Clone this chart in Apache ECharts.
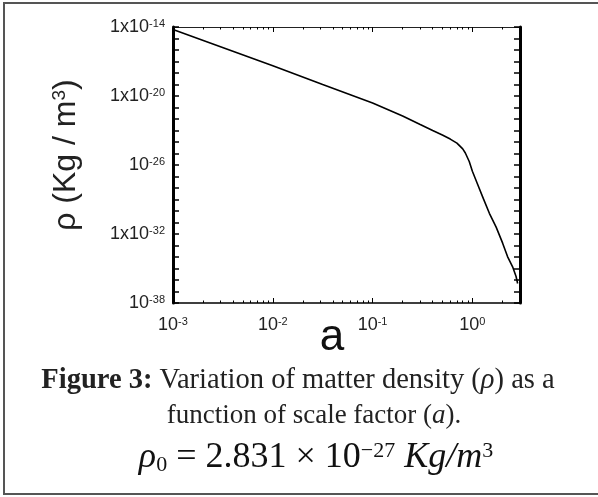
<!DOCTYPE html>
<html><head><meta charset="utf-8">
<script src="https://cdn.jsdelivr.net/npm/echarts@6/dist/echarts.min.js"></script>
<style>
html,body{margin:0;padding:0;background:#fff;}
#frame{position:absolute;left:3px;top:2px;width:604px;height:493px;border:2px solid #555;box-sizing:border-box;}
#chart{position:absolute;left:0;top:0;width:598px;height:497px;}
</style>
</head><body>
<div id="frame"></div>
<div id="chart"></div>
<script>
// Data
const scaleFactor = [0.001, 0.01, 0.0316, 0.1, 0.2, 0.3, 0.4, 0.5, 0.6, 0.7, 0.8, 0.85, 0.93, 1.0, 1.13, 1.27, 1.48, 1.73, 2.01, 2.25, 2.53, 2.74, 2.84];
const matterDensity = [6.0e-15, 4.2e-18, 1.0e-19, 2.5e-21, 1.8e-22, 3.3e-23, 1.0e-23, 4.0e-24, 1.8e-24, 8.0e-25, 2.5e-25, 1.1e-25, 2.0e-26, 2.831e-27, 2.0e-28, 1.6e-29, 6.3e-31, 4.0e-32, 1.6e-33, 1.1e-34, 1.4e-35, 2.0e-36, 5.0e-37];

// Tick labels
const xLabelValues = [0.001, 0.01, 0.1, 1];
const xLabelExp = ['-3', '-2', '-1', '0'];
const yLabelValues = [1e-38, 1e-32, 1e-26, 1e-20, 1e-14];
const yLabelMantissa = ['10', '1x10', '10', '1x10', '1x10'];
const yLabelExp = ['-38', '-32', '-26', '-20', '-14'];

const X_MIN = 0.001, X_MAX = 3;
const Y_MIN = 1e-38, Y_MAX = 1e-14;

// tick positions
const xMajorTicks = [0.001, 0.01, 0.1, 1];
const xMinorTicks = [];
[0.001, 0.01, 0.1, 1].forEach(d => { for (let k = 2; k <= 9; k++) { const v = d * k; if (v <= X_MAX) xMinorTicks.push(v); } });
const yTicks = [];
for (let e = -38; e <= -14; e++) yTicks.push(Math.pow(10, e));

const LABEL_FONT = 'Liberation Sans';
const TXT = '#222';
const labelRich = {
  b: { fontSize: 18, fontFamily: LABEL_FONT, color: TXT },
  s: { fontSize: 11, fontFamily: LABEL_FONT, color: TXT, verticalAlign: 'top' }
};
function expOf(v) { return Math.round(Math.log(v) / Math.LN10); }
function xFmt(v) {
  const i = xLabelValues.findIndex(t => expOf(t) === expOf(v));
  return i < 0 ? '' : '{b|10}{s|' + xLabelExp[i] + '}';
}
function yFmt(v) {
  const i = yLabelValues.findIndex(t => expOf(t) === expOf(v));
  return i < 0 ? '' : '{b|' + yLabelMantissa[i] + '}{s|' + yLabelExp[i] + '}';
}

const data = scaleFactor.map((a, i) => [a, matterDensity[i]]);

const baseX = { type: 'log', logBase: 10, min: X_MIN, max: X_MAX, splitLine: { show: false } };
const baseY = { type: 'log', logBase: 10, min: Y_MIN, max: Y_MAX, splitLine: { show: false } };

const chart = echarts.init(document.getElementById('chart'));
chart.setOption({
  animation: false,
  grid: { left: 173, right: 78, top: 27, bottom: 194 },
  xAxis: [
    Object.assign({}, baseX, {
      position: 'bottom',
      axisLine: { onZero: false, lineStyle: { color: '#000', width: 1.5 } },
      axisTick: { inside: true, length: 5, customValues: xMajorTicks, lineStyle: { color: '#000', width: 1 } },
      axisLabel: { customValues: xLabelValues, formatter: xFmt, rich: labelRich, margin: 13 }
    }),
    Object.assign({}, baseX, {
      position: 'bottom',
      axisLine: { show: false, onZero: false },
      axisTick: { inside: true, length: 2.5, customValues: xMinorTicks, lineStyle: { color: '#000', width: 1 } },
      axisLabel: { show: false }
    }),
    Object.assign({}, baseX, {
      position: 'top',
      axisLine: { onZero: false, lineStyle: { color: '#222', width: 1 } },
      axisTick: { inside: true, length: 5, customValues: xMajorTicks, lineStyle: { color: '#000', width: 1 } },
      axisLabel: { show: false }
    }),
    Object.assign({}, baseX, {
      position: 'top',
      axisLine: { show: false, onZero: false },
      axisTick: { inside: true, length: 2.5, customValues: xMinorTicks, lineStyle: { color: '#000', width: 1 } },
      axisLabel: { show: false }
    })
  ],
  yAxis: [
    Object.assign({}, baseY, {
      position: 'left',
      axisLine: { onZero: false, lineStyle: { color: '#000', width: 3 } },
      axisTick: { inside: true, length: 6, customValues: yTicks, lineStyle: { color: '#000', width: 1.5 } },
      axisLabel: { customValues: yLabelValues, formatter: yFmt, rich: labelRich, margin: 8 }
    }),
    Object.assign({}, baseY, {
      position: 'right',
      axisLine: { onZero: false, lineStyle: { color: '#000', width: 3 } },
      axisTick: { inside: true, length: 6, customValues: yTicks, lineStyle: { color: '#000', width: 1.5 } },
      axisLabel: { show: false }
    })
  ],
  series: [{
    type: 'line', xAxisIndex: 0, yAxisIndex: 0, data: data,
    showSymbol: false, symbol: 'none',
    lineStyle: { color: '#000', width: 1.6 }
  }],
  graphic: [
    { type: 'text', x: 66, y: 155, rotation: Math.PI / 2,
      style: { text: 'ρ (Kg / m{s|3})', fontSize: 32, fontFamily: LABEL_FONT, fill: TXT, align: 'center', verticalAlign: 'middle',
        rich: { s: { fontSize: 19, fontFamily: LABEL_FONT, fill: TXT, verticalAlign: 'top' } } } },
    { type: 'text', x: 332, y: 338,
      style: { text: 'a', fontSize: 44, fontFamily: LABEL_FONT, fill: '#111', align: 'center', verticalAlign: 'middle' } },
    { type: 'text', x: 298, y: 381,
      style: { text: '{b|Figure 3:} Variation of matter density ({i|ρ}) as a', fontSize: 28.5, fontFamily: 'Liberation Serif', fill: '#222', align: 'center', verticalAlign: 'middle',
        rich: { b: { fontSize: 28.5, fontFamily: 'Liberation Serif', fontWeight: 'bold', fill: '#222' },
                i: { fontSize: 28.5, fontFamily: 'Liberation Serif', fontStyle: 'italic', fill: '#222' } } } },
    { type: 'text', x: 314, y: 416,
      style: { text: 'function of scale factor ({i|a}).', fontSize: 27, fontFamily: 'Liberation Serif', fill: '#222', align: 'center', verticalAlign: 'middle',
        rich: { i: { fontSize: 27, fontFamily: 'Liberation Serif', fontStyle: 'italic', fill: '#222' } } } },
    { type: 'text', x: 316, y: 458,
      style: { text: '{i|ρ}{sub|0} = 2.831 × 10{sup|−27} {i|Kg/m}{sup|3}', fontSize: 36, fontFamily: 'Liberation Serif', fill: '#111', align: 'center', verticalAlign: 'middle',
        rich: { i: { fontSize: 36, fontFamily: 'Liberation Serif', fontStyle: 'italic', fill: '#111' },
                sub: { fontSize: 22, fontFamily: 'Liberation Serif', fill: '#111', verticalAlign: 'bottom' },
                sup: { fontSize: 22, fontFamily: 'Liberation Serif', fill: '#111', verticalAlign: 'top' } } } }
  ]
});
</script>
</body></html>
